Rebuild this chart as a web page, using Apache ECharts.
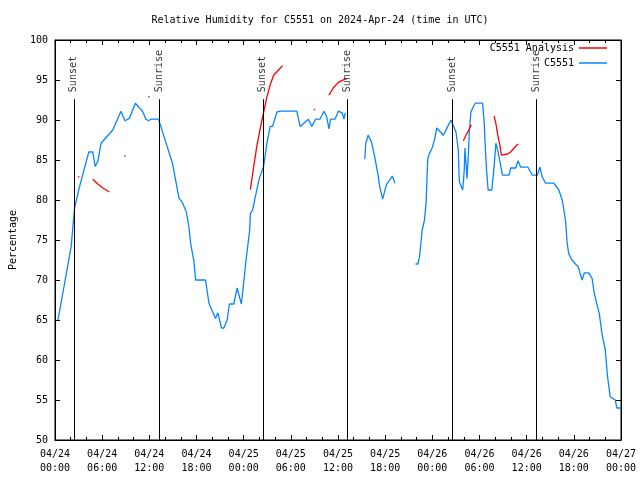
<!DOCTYPE html>
<html>
<head>
<meta charset="utf-8">
<script src="https://cdn.jsdelivr.net/npm/echarts@6/dist/echarts.min.js"></script>
<style>html,body{margin:0;padding:0;background:#fff}#c{width:640px;height:480px}</style>
</head>
<body>
<div id="c"></div>
<script>
// hours since 2024-04-24 00:00 UTC
var humTime = [0.38,2.06,2.28,2.49,3.13,4.30,4.81,5.10,5.44,5.86,7.34,8.39,8.90,9.46,10.22,11.14,11.56,11.90,12.19,13.16,13.46,14.94,15.78,16.20,16.71,17.05,17.25,17.68,17.89,19.15,19.58,20.42,20.72,21.18,21.48,21.90,22.19,22.75,23.16,23.71,23.99,24.30,24.77,24.85,25.15,25.48,25.99,26.54,26.96,27.38,27.68,28.23,28.65,30.76,31.18,32.24,32.66,33.16,33.71,34.22,34.56,34.85,35.06,35.61,36.04,36.54,36.75,36.92,
  38.2,
  39.41,39.53,39.84,40.25,40.67,41.10,41.30,41.68,42.15,42.91,43.25,
  44.5,
  45.86,46.16,46.37,46.71,47.0,47.22,47.34,47.43,47.63,47.97,48.27,48.57,48.77,49.41,49.96,50.38,50.59,51.01,51.3,51.43,51.86,51.94,52.06,52.15,52.28,52.41,52.57,52.70,52.91,53.13,53.46,54.39,54.59,54.72,54.90,55.10,55.57,55.86,56.08,56.37,56.71,56.92,57.76,57.97,58.61,58.90,59.24,60.16,60.72,61.35,61.68,61.98,62.41,63.46,64.09,64.52,64.94,65.15,65.35,65.78,66.20,66.54,67.05,67.34,67.89,68.32,68.61,68.95,69.24,69.58,70.0,70.29,70.63,71.27,71.48,72.0];
var humVal = [65.0,74.2,76.7,79.0,81.7,86.0,86.0,84.2,84.8,87.1,88.75,91.1,89.9,90.2,92.1,91.1,90.1,89.9,90.1,90.1,89.2,84.6,80.2,79.7,78.5,76.5,74.6,72.3,70.0,70.0,67.1,65.2,65.9,64.0,64.0,65.0,67.0,67.0,69.0,67.0,69.5,72.5,76.25,78.3,78.75,80.4,82.7,84.2,87.1,89.2,89.2,91.0,91.1,91.1,89.2,90.1,89.2,90.1,90.1,91.1,90.4,88.9,90.1,90.1,91.1,90.9,90.1,90.9,
  null,
  85.1,87.1,88.1,87.3,85.4,83.1,81.7,80.1,81.9,83.0,82.1,
  null,
  72.0,72.0,72.9,76.25,77.5,79.8,83.3,85.2,85.8,86.5,87.5,89.0,89.1,88.1,89.2,90.0,89.8,88.5,86.25,82.3,81.25,81.1,83.75,86.5,86.7,82.7,85.4,88.5,91.0,91.5,92.1,92.1,89.8,86.9,83.75,81.25,81.25,84.2,87.1,86.0,84.2,83.1,83.1,84.0,84.0,84.9,84.1,84.1,83.1,83.1,84.1,82.9,82.1,82.1,81.25,80.0,77.5,74.6,73.3,72.5,72.0,71.7,70.0,70.9,70.9,70.2,68.3,66.9,65.8,63.3,61.25,57.9,55.4,55.0,54.0,54.0];

var anaTime = [4.81,5.44,6.08,6.92, 7.5, 24.85,25.28,25.70,26.33,26.96,27.38,27.81,28.44,28.94, 30, 34.85,35.39,36.04,36.87,37.1, 40, 51.94,52.49,52.97, 54, 55.86,56.08,56.29,56.58,56.80,56.92,57.56,57.97,58.39,58.90];
var anaVal  = [82.6,82.0,81.5,81.0, null, 81.3,84.2,86.9,90.0,92.9,94.4,95.6,96.25,96.8, null, 93.1,94.0,94.7,95.1,95.1, null, 87.4,88.5,89.4, null, 90.5,89.6,88.3,86.9,85.6,85.6,85.75,86.0,86.5,87.0];
var anaDotTime = [3.0, 8.9, 11.94, 33.0];
var anaDotVal  = [82.9, 85.5, 92.9, 91.3];

var sunTime  = [2.4, 13.3, 26.45, 37.2, 50.5, 61.25];
var sunLabel = ['Sunset','Sunrise','Sunset','Sunrise','Sunset','Sunrise'];
var sunLineTop = 92.6;

var xTickLabels = ['04/24\n00:00','04/24\n06:00','04/24\n12:00','04/24\n18:00','04/25\n00:00','04/25\n06:00','04/25\n12:00','04/25\n18:00','04/26\n00:00','04/26\n06:00','04/26\n12:00','04/26\n18:00','04/27\n00:00'];
var yTicks = [50,55,60,65,70,75,80,85,90,95,100];

var FONT = 'DejaVu Sans Mono';
var BLUE = '#0a84ff', RED = '#ff0000';

function pairs(t, v){ return t.map(function(x,i){ return [x, v[i]]; }); }

var chart = echarts.init(document.getElementById('c'), null, {renderer:'canvas'});
var axisCommonX = {
  type:'value', min:0, max:72, interval:6,
  axisLine:{show:true, onZero:false, lineStyle:{color:'#000', width:1}},
  axisTick:{show:true, inside:true, length:5, lineStyle:{color:'#000'}},
  minorTick:{show:true, splitNumber:3, length:3, lineStyle:{color:'#000'}},
  splitLine:{show:false}
};
var axisCommonY = {
  type:'value', min:50, max:100, interval:5,
  axisLine:{show:true, onZero:false, lineStyle:{color:'#000', width:1}},
  axisTick:{show:true, inside:true, length:5, lineStyle:{color:'#000'}},
  splitLine:{show:false}
};
var option = {
  animation:false,
  backgroundColor:'#fff',
  title:{text:'Relative Humidity for C5551 on 2024-Apr-24 (time in UTC)', left:'center', top:10,
    textStyle:{fontFamily:FONT, fontSize:10, fontWeight:'normal', color:'#000'}},
  legend:[
    {data:['C5551 Analysis'], right:28, top:38, icon:'rect', itemWidth:28, itemHeight:1.5, align:'right',
      textStyle:{fontFamily:FONT, fontSize:10, color:'#000'}},
    {data:['C5551'], right:28, top:53, icon:'rect', itemWidth:28, itemHeight:1.5, align:'right',
      textStyle:{fontFamily:FONT, fontSize:10, color:'#000'}}
  ],
  grid:{left:52, right:19, top:40, bottom:40, show:true, borderColor:'#000', borderWidth:1, containLabel:false},
  xAxis:[
    Object.assign({}, axisCommonX, {position:'bottom',
      axisLabel:{show:true, margin:7, fontFamily:FONT, fontSize:10, color:'#000', lineHeight:14,
        formatter:function(v){ return xTickLabels[Math.round(v/6)]; }}}),
    Object.assign({}, axisCommonX, {position:'top', axisLabel:{show:false}})
  ],
  yAxis:[
    Object.assign({}, axisCommonY, {position:'left', name:'Percentage', nameLocation:'middle', nameGap:37, nameRotate:90,
      nameTextStyle:{fontFamily:FONT, fontSize:10, color:'#000'},
      axisLabel:{show:true, margin:7, fontFamily:FONT, fontSize:10, color:'#000',
        formatter:function(v){ return yTicks.indexOf(v) >= 0 ? String(v) : ''; }}}),
    Object.assign({}, axisCommonY, {position:'right', axisLabel:{show:false}})
  ],
  series:[
    {name:'C5551 Analysis', type:'line', data:pairs(anaTime, anaVal), showSymbol:false, connectNulls:false,
      lineStyle:{color:RED, width:1.3}, itemStyle:{color:RED}, z:3},
    {name:'C5551 Analysis', type:'scatter', data:pairs(anaDotTime, anaDotVal), symbol:'rect', symbolSize:1.6,
      itemStyle:{color:RED}, z:3},
    {name:'C5551', type:'line', data:pairs(humTime, humVal), showSymbol:false, connectNulls:false,
      lineStyle:{color:BLUE, width:1.3}, itemStyle:{color:BLUE}, z:2},
    {name:'sun', type:'scatter', data:sunTime.map(function(t,i){ return {value:[t, sunLineTop], name:sunLabel[i]}; }),
      symbolSize:0.1, itemStyle:{color:'rgba(0,0,0,0)'}, silent:true, z:4,
      label:{show:true, formatter:'{b}', position:[0,-7], rotate:90, align:'left', verticalAlign:'middle',
        fontFamily:FONT, fontSize:10, color:'#000'},
      markLine:{silent:true, symbol:['none','none'], label:{show:false},
        lineStyle:{color:'#000', width:1, type:'solid'},
        data:sunTime.map(function(t){ return [{coord:[t, sunLineTop]},{coord:[t, 50]}]; })}
    }
  ]
};
chart.setOption(option);
</script>
</body>
</html>
